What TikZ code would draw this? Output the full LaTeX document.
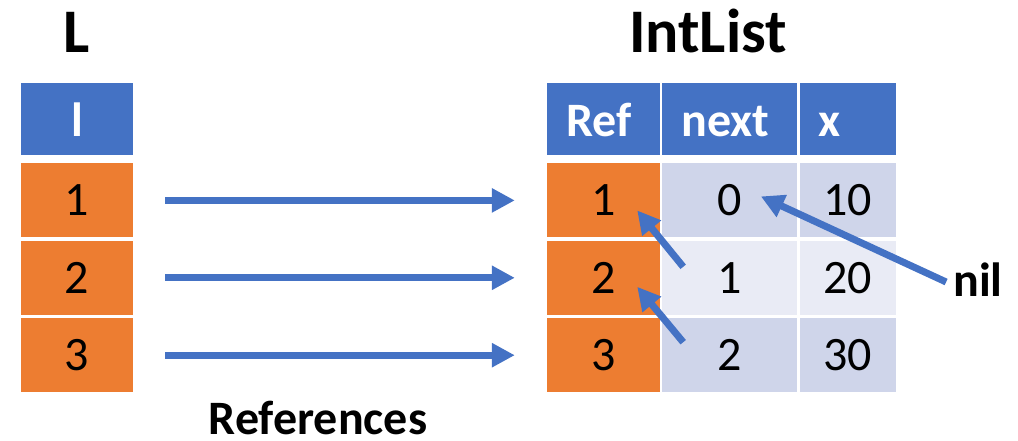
\documentclass[tikz,border=0pt]{standalone}
\usepackage{fontspec}
\setmainfont{Carlito}
\usetikzlibrary{arrows.meta,calc,positioning}

\definecolor{hdrblue}{HTML}{4472C4}
\definecolor{refora}{HTML}{ED7D31}
\definecolor{rowdark}{HTML}{CFD5EA}
\definecolor{rowlight}{HTML}{E9EBF5}

\begin{document}
\begin{tikzpicture}[
    x=1pt, y=-1pt,
    cell/.style={inner sep=0pt, minimum height=74pt, font=\fontsize{48}{54}\selectfont},
    head/.style={cell, minimum height=72pt, fill=hdrblue, text=white,
        inner xsep=19pt, align=left, text height=36pt, text depth=0pt,
        font=\fontsize{48}{54}\selectfont\bfseries},
    ref/.style={cell, fill=refora, minimum width=112pt},
    dark/.style={cell, fill=rowdark},
    light/.style={cell, fill=rowlight},
    title/.style={font=\fontsize{62}{70}\selectfont\bfseries},
    label/.style={inner sep=0pt, font=\fontsize{48}{54}\selectfont\bfseries},
    ptr/.style={draw=hdrblue, line width=7pt, -{Triangle[length=23pt,width=23pt]}}
]
\useasboundingbox (0,0) rectangle (1018,441);

% table L
\node[head, text width=74pt, align=center] (lhead) at (77,119) {l};
\node[ref, below=8pt of lhead] (l1) {1};
\node[ref, below=3pt of l1] (l2) {2};
\node[ref, below=3pt of l2] (l3) {3};
\node[title, anchor=base] (ltitle) at (77,53) {L};

% table IntList
\node[head, text width=75pt] (rhead) at (603.5,119) {Ref};
\node[head, text width=97pt, right=2pt of rhead] (nhead) {next};
\node[head, text width=58pt, right=2pt of nhead] (xhead) {x};
\node[ref, minimum width=113pt, below=8pt of rhead] (r1) {1};
\node[ref, minimum width=113pt, below=3pt of r1] (r2) {2};
\node[ref, minimum width=113pt, below=3pt of r2] (r3) {3};
\node[dark, minimum width=135pt, right=2pt of r1] (n1) {0};
\node[light, minimum width=135pt, right=2pt of r2] (n2) {1};
\node[dark, minimum width=135pt, right=2pt of r3] (n3) {2};
\node[dark, minimum width=96pt, right=2pt of n1] (x1) {10};
\node[light, minimum width=96pt, right=2pt of n2] (x2) {20};
\node[dark, minimum width=96pt, right=2pt of n3] (x3) {30};
\node[title, anchor=base] (rtitle) at (708,53) {IntList};

\node[label, anchor=base] (refs) at (318,434) {References};
\node[label] (nil) at (978,280) {nil};

% references from L into IntList
\foreach \i in {1,2,3}
    \draw[ptr, shorten <=32pt, shorten >=32pt] (l\i.east) -- (r\i.west);

% next pointers
\draw[ptr] ($(n2.west)+(21,-11)$) -- ($(r1.east)+(-23,10)$);
\draw[ptr] ($(n3.west)+(21,-13)$) -- ($(r2.east)+(-23,9)$);
\draw[ptr] ($(nil.west)+(-7,2)$) -- ($(n1.center)+(31,-4)$);

\end{tikzpicture}
\end{document}
